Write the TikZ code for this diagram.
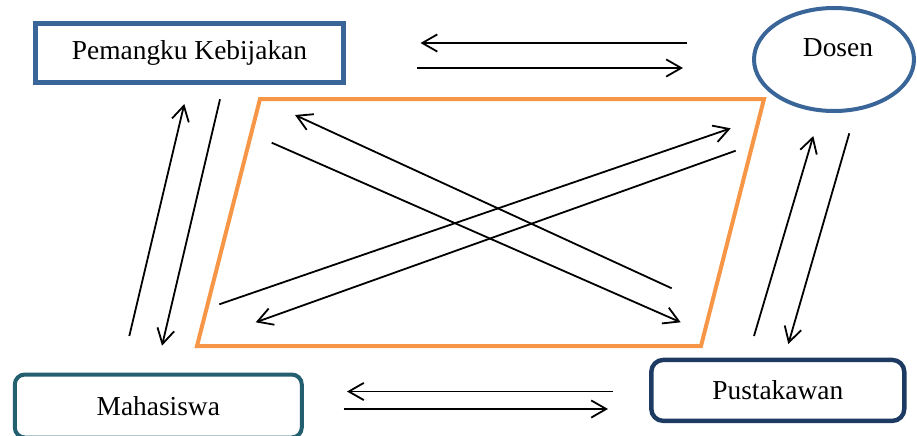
\documentclass[tikz,border=0pt]{standalone}
\usepackage{fontspec}
\setmainfont{Liberation Serif}
\usetikzlibrary{arrows.meta,shapes.geometric}
\definecolor{stakeblue}{HTML}{3A6598}
\definecolor{lectblue}{HTML}{3A6598}
\definecolor{studteal}{HTML}{235F6F}
\definecolor{libnavy}{HTML}{1D3A63}
\definecolor{huborange}{HTML}{F79646}
\tikzset{
  lbl/.style={font=\fontsize{13.7pt}{16pt}\selectfont, text=black},
  actorbox/.style={lbl, draw, rectangle, inner sep=0pt},
  flow/.style={line width=0.9pt, -{Straight Barb[length=7.5pt,width=8.6pt,line width=0.9pt]}},
}
\begin{document}
\begin{tikzpicture}[x=0.5pt,y=-0.5pt]
\useasboundingbox (0,0) rectangle (917,435);

% actors
\node[actorbox, draw=stakeblue, line width=2.35pt, minimum width=154pt, minimum height=29.5pt]
  (pk) at (189.5,53) {Pemangku Kebijakan};
\node[draw=lectblue, ellipse, line width=2pt, minimum width=80pt, minimum height=51.5pt, inner sep=0pt]
  (ds) at (834,59.5) {};
\node[lbl] (dslbl) at ([xshift=2pt,yshift=5.75pt]ds.center) {Dosen};
\node[actorbox, draw=studteal, line width=2pt, rounded corners=5pt, minimum width=143.5pt, minimum height=31.5pt]
  (mh) at (158.3,406) {Mahasiswa};
\node[actorbox, draw=libnavy, line width=2.2pt, rounded corners=6pt, minimum width=126.5pt, minimum height=30.5pt]
  (pt) at (777.8,390.4) {Pustakawan};

% central frame
\coordinate (c1) at (260,99);
\coordinate (c2) at (764,99);
\coordinate (c3) at (701,346);
\coordinate (c4) at (197,346);
\draw[huborange, line width=2pt, line join=miter] (c1) -- (c2) -- (c3) -- (c4) -- cycle;

% Pemangku Kebijakan <-> Dosen
\coordinate (a1s) at (686.5,43);  \coordinate (a1e) at (420.5,43);
\coordinate (a2s) at (417,68);    \coordinate (a2e) at (683,68);
\draw[flow] (a1s) -- (a1e);
\draw[flow] (a2s) -- (a2e);

% Mahasiswa <-> Pustakawan
\coordinate (b1s) at (613,391.5); \coordinate (b1e) at (347,391.5);
\coordinate (b2s) at (343.5,409); \coordinate (b2e) at (608,409);
\draw[flow] (b1s) -- (b1e);
\draw[flow] (b2s) -- (b2e);

% Pemangku Kebijakan <-> Mahasiswa
\coordinate (l1s) at (129.3,336); \coordinate (l1e) at (184.3,104);
\coordinate (l2s) at (220,99.3);  \coordinate (l2e) at (162,345.7);
\draw[flow] (l1s) -- (l1e);
\draw[flow] (l2s) -- (l2e);

% Dosen <-> Pustakawan
\coordinate (r1s) at (754,336);   \coordinate (r1e) at (813.3,136);
\coordinate (r2s) at (849.3,133.3); \coordinate (r2e) at (788.3,344);
\draw[flow] (r1s) -- (r1e);
\draw[flow] (r2s) -- (r2e);

% cross links inside the frame
\coordinate (d1s) at (671.7,288.3); \coordinate (d1e) at (295,115);
\coordinate (d2s) at (271.7,142.7); \coordinate (d2e) at (680.7,322.3);
\coordinate (d3s) at (219.3,304.3); \coordinate (d3e) at (730.7,128.3);
\coordinate (d4s) at (735.7,150.7); \coordinate (d4e) at (255.7,322.3);
\draw[flow] (d1s) -- (d1e);
\draw[flow] (d2s) -- (d2e);
\draw[flow] (d3s) -- (d3e);
\draw[flow] (d4s) -- (d4e);
\end{tikzpicture}
\end{document}
